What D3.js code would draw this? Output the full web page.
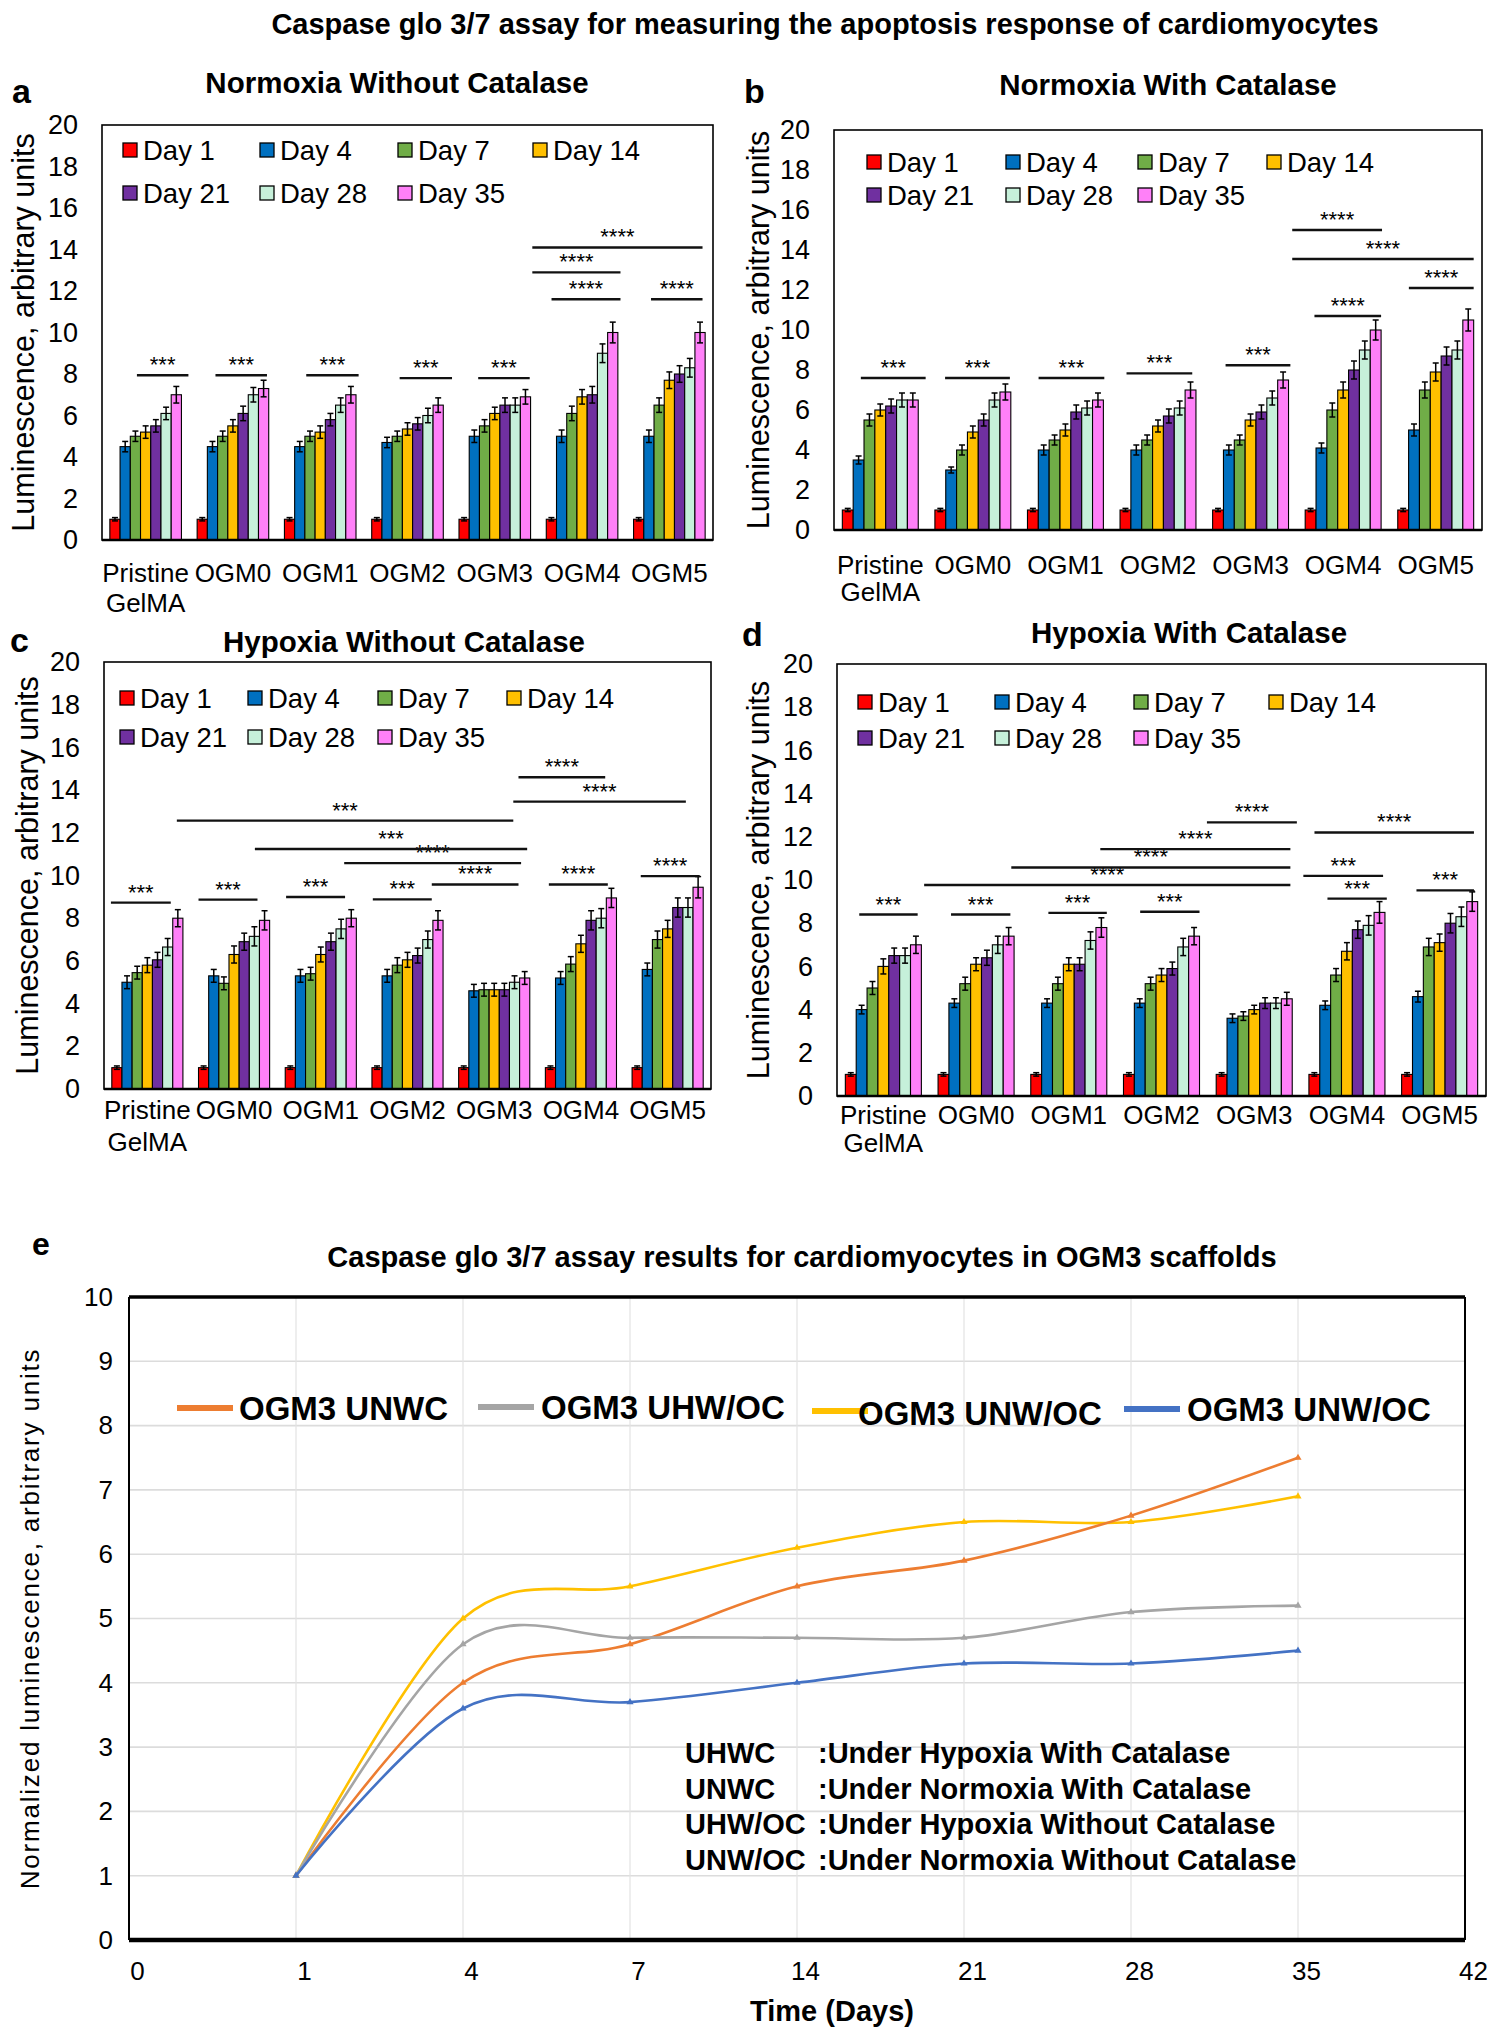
<!DOCTYPE html>
<html><head><meta charset="utf-8">
<script src="https://cdn.jsdelivr.net/npm/d3@7"></script>
<style>
body{margin:0;background:#fff}
svg{display:block}
text{font-family:"Liberation Sans",Arial,Helvetica,sans-serif;fill:#000}
</style>
</head><body>
<svg id="fig" width="1500" height="2038"></svg>
<script>
// ---------------- DATA ----------------
const groups = ["Pristine GelMA","OGM0","OGM1","OGM2","OGM3","OGM4","OGM5"];
const days = ["Day 1","Day 4","Day 7","Day 14","Day 21","Day 28","Day 35"];
const dayColors = ["#FF0000","#0070C0","#70AD47","#FFC000","#7030A0","#C6F0DA","#FF80F8"];
const barTicks = [0,2,4,6,8,10,12,14,16,18,20];

// values[group][day]
const valuesA = [
 [1.0,4.5,5.0,5.2,5.5,6.1,7.0],
 [1.0,4.5,5.0,5.5,6.1,7.0,7.3],
 [1.0,4.5,5.0,5.2,5.8,6.5,7.0],
 [1.0,4.7,5.0,5.35,5.6,6.0,6.5],
 [1.0,5.0,5.5,6.1,6.5,6.5,6.9],
 [1.0,5.0,6.1,6.9,7.0,9.0,10.0],
 [1.0,5.0,6.5,7.7,8.0,8.3,10.0]];
const errorsA = [
 [0.08,0.25,0.25,0.3,0.3,0.3,0.4],
 [0.08,0.25,0.25,0.3,0.35,0.35,0.4],
 [0.08,0.25,0.25,0.3,0.3,0.35,0.4],
 [0.08,0.25,0.25,0.3,0.3,0.35,0.35],
 [0.08,0.3,0.3,0.3,0.35,0.35,0.35],
 [0.08,0.3,0.35,0.35,0.4,0.45,0.5],
 [0.08,0.3,0.35,0.4,0.4,0.45,0.5]];
const valuesB = [
 [1.0,3.5,5.5,6.0,6.2,6.5,6.5],
 [1.0,3.0,4.0,4.9,5.5,6.5,6.9],
 [1.0,4.0,4.5,5.0,5.9,6.1,6.5],
 [1.0,4.0,4.5,5.2,5.7,6.1,7.0],
 [1.0,4.0,4.5,5.5,5.9,6.6,7.5],
 [1.0,4.1,6.0,7.0,8.0,9.0,10.0],
 [1.0,5.0,7.0,7.9,8.7,9.0,10.5]];
const errorsB = [
 [0.08,0.2,0.3,0.3,0.35,0.35,0.35],
 [0.08,0.15,0.25,0.3,0.3,0.35,0.4],
 [0.08,0.25,0.25,0.3,0.35,0.35,0.35],
 [0.08,0.25,0.25,0.3,0.35,0.35,0.4],
 [0.08,0.25,0.25,0.3,0.35,0.35,0.4],
 [0.08,0.25,0.35,0.4,0.45,0.45,0.5],
 [0.08,0.3,0.4,0.45,0.45,0.45,0.55]];
const valuesC = [
 [1.0,5.0,5.45,5.8,6.05,6.65,8.0],
 [1.0,5.3,4.95,6.3,6.9,7.15,7.9],
 [1.0,5.3,5.4,6.3,6.9,7.5,8.0],
 [1.0,5.3,5.8,6.05,6.25,7.0,7.9],
 [1.0,4.6,4.65,4.65,4.65,5.0,5.2],
 [1.0,5.2,5.85,6.8,7.9,8.0,8.95],
 [1.0,5.6,7.0,7.5,8.5,8.5,9.45]];
const errorsC = [
 [0.08,0.3,0.3,0.35,0.35,0.4,0.4],
 [0.08,0.3,0.3,0.4,0.4,0.45,0.45],
 [0.08,0.3,0.3,0.35,0.4,0.45,0.4],
 [0.08,0.3,0.35,0.35,0.35,0.4,0.45],
 [0.08,0.3,0.3,0.3,0.3,0.3,0.3],
 [0.08,0.3,0.35,0.4,0.45,0.45,0.45],
 [0.08,0.3,0.4,0.4,0.45,0.45,0.5]];
const valuesD = [
 [1.0,4.0,5.0,6.0,6.5,6.5,7.0],
 [1.0,4.3,5.2,6.1,6.4,7.0,7.4],
 [1.0,4.3,5.2,6.1,6.1,7.2,7.8],
 [1.0,4.3,5.2,5.6,5.9,6.9,7.4],
 [1.0,3.6,3.7,4.0,4.3,4.3,4.5],
 [1.0,4.2,5.6,6.7,7.7,7.9,8.5],
 [1.0,4.6,6.9,7.1,8.0,8.3,9.0]];
const errorsD = [
 [0.08,0.2,0.3,0.35,0.35,0.35,0.4],
 [0.08,0.2,0.3,0.3,0.35,0.4,0.4],
 [0.08,0.2,0.3,0.3,0.3,0.4,0.45],
 [0.08,0.2,0.3,0.3,0.3,0.4,0.4],
 [0.08,0.2,0.2,0.2,0.25,0.25,0.3],
 [0.08,0.2,0.3,0.4,0.4,0.45,0.5],
 [0.08,0.25,0.4,0.4,0.45,0.45,0.45]];

// significance brackets: [from (group units), to (group units), level, label, drop tick]
const bracketsA = [
 [0.40,0.99,7.94,"***"],[1.30,1.89,7.94,"***"],[2.34,2.94,7.94,"***"],
 [3.41,4.01,7.8,"***"],[4.31,4.90,7.8,"***"],
 [5.15,5.94,11.6,"****"],[4.93,5.94,12.9,"****"],[4.93,6.88,14.1,"****"],[6.29,6.88,11.6,"****"]];
const bracketsB = [
 [0.29,0.99,7.6,"***"],[1.20,1.90,7.6,"***"],[2.21,2.92,7.6,"***"],
 [3.16,3.87,7.83,"***"],[4.23,4.93,8.24,"***"],
 [5.19,5.91,10.7,"****"],[6.21,6.91,12.1,"****"],[4.95,6.91,13.55,"****"],[4.95,5.92,15.0,"****"]];
const bracketsC = [
 [0.08,0.77,8.73,"***"],[1.09,1.77,8.87,"***"],[2.10,2.78,8.99,"***"],[3.10,3.78,8.88,"***"],
 [3.78,4.78,9.58,"****"],[2.77,4.81,10.58,"****"],[1.74,4.88,11.24,"***"],[0.84,4.72,12.57,"***"],
 [5.13,5.81,9.58,"****"],[6.19,6.87,9.97,"****",true],[4.72,6.71,13.46,"****"],[4.78,5.78,14.6,"****"]];
const bracketsD = [
 [0.24,0.87,8.4,"***"],[1.23,1.87,8.4,"***"],[2.28,2.91,8.48,"***"],[3.27,3.91,8.53,"***"],
 [0.94,4.89,9.77,"****"],[1.88,4.89,10.58,"****"],[2.84,4.89,11.43,"****"],[3.99,4.96,12.67,"****"],
 [5.03,5.89,10.19,"***"],[5.29,5.93,9.14,"***"],[6.25,6.87,9.52,"***",true],[5.15,6.87,12.2,"****"]];

// panel e
const timeLabels = ["0","1","4","7","14","21","28","35","42"];
const seriesDays = ["1","4","7","14","21","28","35"];
const lineTicks = [0,1,2,3,4,5,6,7,8,9,10];
const seriesNames = ["OGM3 UNWC","OGM3 UHW/OC","OGM3 UNW/OC","OGM3 UNW/OC"];
const seriesColors = ["#ED7D31","#A5A5A5","#FFC000","#4472C4"];
const seriesUNWC   = [1,4.0,4.6,5.5,5.9,6.6,7.5];
const seriesUHWOC  = [1,4.6,4.7,4.7,4.7,5.1,5.2];
const seriesUNWOCy = [1,5.0,5.5,6.1,6.5,6.5,6.9];
const seriesUNWOCb = [1,3.6,3.7,4.0,4.3,4.3,4.5];
const abbreviations = [
 ["UHWC",":Under Hypoxia With Catalase"],
 ["UNWC",":Under Normoxia With Catalase"],
 ["UHW/OC",":Under Hypoxia Without Catalase"],
 ["UNW/OC",":Under Normoxia Without Catalase"]];

// ---------------- LAYOUT ----------------
const panels = [
 {letter:"a",title:"Normoxia Without Catalase",values:valuesA,errors:errorsA,brackets:bracketsA,
  left:102,right:713,top:125,bottom:540,letterX:12,letterY:103,titleX:397,titleY:93,yTitleX:23,
  legX:[21,158,296,431],legY:[150,193],lab1:42,lab2:30},
 {letter:"b",title:"Normoxia With Catalase",values:valuesB,errors:errorsB,brackets:bracketsB,
  left:834,right:1482,top:130,bottom:530,letterX:744,letterY:103,titleX:1168,titleY:95,yTitleX:758,
  legX:[33,172,304,433],legY:[162,195],lab1:44,lab2:27},
 {letter:"c",title:"Hypoxia Without Catalase",values:valuesC,errors:errorsC,brackets:bracketsC,
  left:104,right:711,top:662,bottom:1089,letterX:10,letterY:652,titleX:404,titleY:652,yTitleX:27,
  legX:[16,144,274,403],legY:[698,737],lab1:30,lab2:32},
 {letter:"d",title:"Hypoxia With Catalase",values:valuesD,errors:errorsD,brackets:bracketsD,
  left:837,right:1486,top:664,bottom:1096,letterX:742,letterY:646,titleX:1189,titleY:643,yTitleX:758,
  legX:[21,158,297,432],legY:[702,738],lab1:28,lab2:28}
];

const svg = d3.select("#fig");
svg.append("rect").attr("width",1500).attr("height",2038).attr("fill","#fff");

svg.append("text").attr("x",825).attr("y",34).attr("text-anchor","middle")
  .attr("font-size",29).attr("font-weight","bold")
  .text("Caspase glo 3/7 assay for measuring the apoptosis response of cardiomyocytes");

function drawPanel(p){
  const g = svg.append("g");
  const x0 = d3.scaleBand().domain(groups).range([p.left,p.right]).paddingInner(0.18).paddingOuter(0.09);
  const x1 = d3.scaleBand().domain(days).range([0,x0.bandwidth()]);
  const y = d3.scaleLinear().domain([0,20]).range([p.bottom,p.top]);
  const u = d3.scaleLinear().domain([0,groups.length]).range([p.left,p.right]);

  g.append("text").attr("x",p.letterX).attr("y",p.letterY).attr("font-size",34).attr("font-weight","bold").text(p.letter);
  g.append("text").attr("x",p.titleX).attr("y",p.titleY).attr("text-anchor","middle")
    .attr("font-size",29.5).attr("font-weight","bold").text(p.title);

  // frame
  g.append("rect").attr("x",p.left).attr("y",p.top).attr("width",p.right-p.left).attr("height",p.bottom-p.top)
    .attr("fill","none").attr("stroke","#000").attr("stroke-width",1.6);

  // y axis
  const ax = g.append("g").attr("transform",`translate(${p.left},0)`)
    .call(d3.axisLeft(y).tickValues(barTicks).tickSize(0).tickPadding(24));
  ax.select(".domain").remove();
  ax.selectAll("text").attr("font-size",27).attr("font-family","'Liberation Sans',Arial,sans-serif").attr("fill","#000");

  g.append("text").attr("transform",`translate(${p.yTitleX},${(p.top+p.bottom)/2}) rotate(-90)`)
    .attr("text-anchor","middle").attr("dominant-baseline","central").attr("font-size",30.5)
    .text("Luminescence, arbitrary units");

  // bars
  groups.forEach((gn,gi)=>{
    days.forEach((dn,di)=>{
      const v = p.values[gi][di], e = p.errors[gi][di];
      const bx = x0(gn)+x1(dn), bw = x1.bandwidth();
      g.append("rect").attr("x",bx).attr("y",y(v)).attr("width",bw).attr("height",y(0)-y(v))
        .attr("fill",dayColors[di]).attr("stroke","#000").attr("stroke-width",1.1);
      const cx = bx+bw/2;
      g.append("line").attr("x1",cx).attr("x2",cx).attr("y1",y(v-e)).attr("y2",y(v+e)).attr("stroke","#000").attr("stroke-width",1.5);
      [v-e,v+e].forEach(t=>g.append("line").attr("x1",cx-3).attr("x2",cx+3).attr("y1",y(t)).attr("y2",y(t)).attr("stroke","#000").attr("stroke-width",1.5));
    });
  });

  // bottom axis line (thicker)
  g.append("line").attr("x1",p.left).attr("x2",p.right).attr("y1",p.bottom).attr("y2",p.bottom).attr("stroke","#000").attr("stroke-width",2.6);

  // category labels
  groups.forEach(gn=>{
    const cx = x0(gn)+x0.bandwidth()/2;
    const parts = gn.split(" ");
    const t = g.append("text").attr("x",cx).attr("y",p.bottom+p.lab1).attr("text-anchor","middle").attr("font-size",26);
    parts.forEach((s,i)=>t.append("tspan").attr("x",cx).attr("dy",i?p.lab2:0).text(s));
  });

  // legend
  days.forEach((dn,di)=>{
    const lx = p.left + p.legX[di%4], ly = p.legY[Math.floor(di/4)];
    g.append("rect").attr("x",lx).attr("y",ly-7).attr("width",14).attr("height",14)
      .attr("fill",dayColors[di]).attr("stroke","#000").attr("stroke-width",1.3);
    g.append("text").attr("x",lx+20).attr("y",ly).attr("dominant-baseline","central").attr("font-size",27.5).text(dn);
  });

  // significance brackets
  p.brackets.forEach(b=>{
    const xa = u(b[0]), xb = u(b[1]), yy = y(b[2]);
    g.append("line").attr("x1",xa).attr("x2",xb).attr("y1",yy).attr("y2",yy).attr("stroke","#111").attr("stroke-width",2.4);
    if(b[4]){
      const v = p.values[groups.length-1][days.length-1]+p.errors[groups.length-1][days.length-1];
      g.append("line").attr("x1",xb).attr("x2",xb).attr("y1",yy).attr("y2",y(v)).attr("stroke","#111").attr("stroke-width",2);
    }
    g.append("text").attr("x",(xa+xb)/2).attr("y",yy-3).attr("text-anchor","middle").attr("font-size",22).attr("fill","#222").text(b[3]);
  });
}
panels.forEach(drawPanel);

// ---------------- PANEL E ----------------
const E = {left:129,right:1465,top:1297,bottom:1940};
const xE = d3.scalePoint().domain(timeLabels).range([E.left,E.right]);
const yE = d3.scaleLinear().domain([0,10]).range([E.bottom,E.top]);
const ge = svg.append("g");

ge.append("text").attr("x",32).attr("y",1255).attr("font-size",32).attr("font-weight","bold").text("e");
ge.append("text").attr("x",802).attr("y",1267).attr("text-anchor","middle").attr("font-size",29).attr("font-weight","bold")
  .text("Caspase glo 3/7 assay results for cardiomyocytes in OGM3 scaffolds");

// gridlines
ge.append("g").selectAll("line").data(lineTicks.slice(1)).join("line")
  .attr("x1",E.left).attr("x2",E.right).attr("y1",d=>yE(d)).attr("y2",d=>yE(d)).attr("stroke","#DCDCDC").attr("stroke-width",1.6);
ge.append("g").selectAll("line").data(timeLabels.slice(1,-1)).join("line")
  .attr("x1",d=>xE(d)).attr("x2",d=>xE(d)).attr("y1",E.top).attr("y2",E.bottom).attr("stroke","#E3E3E3").attr("stroke-width",1.2);

// frame
ge.append("line").attr("x1",E.left).attr("x2",E.left).attr("y1",E.top).attr("y2",E.bottom).attr("stroke","#000").attr("stroke-width",2);
ge.append("line").attr("x1",E.right).attr("x2",E.right).attr("y1",E.top).attr("y2",E.bottom).attr("stroke","#000").attr("stroke-width",2);
ge.append("line").attr("x1",E.left).attr("x2",E.right).attr("y1",E.top).attr("y2",E.top).attr("stroke","#000").attr("stroke-width",3.5);
ge.append("line").attr("x1",E.left).attr("x2",E.right).attr("y1",E.bottom).attr("y2",E.bottom).attr("stroke","#000").attr("stroke-width",4.5);

// axes labels
const yAx = ge.append("g").attr("transform",`translate(${E.left},0)`).call(d3.axisLeft(yE).tickValues(lineTicks).tickSize(0).tickPadding(16));
yAx.select(".domain").remove();
yAx.selectAll("text").attr("font-size",26).attr("font-family","'Liberation Sans',Arial,sans-serif").attr("fill","#000");
const xAx = ge.append("g").attr("transform",`translate(0,${E.bottom})`).call(d3.axisBottom(xE).tickSize(0).tickPadding(22));
xAx.select(".domain").remove();
xAx.selectAll("text").attr("font-size",26).attr("dx",8).attr("font-family","'Liberation Sans',Arial,sans-serif").attr("fill","#000");

ge.append("text").attr("x",832).attr("y",2021).attr("text-anchor","middle").attr("font-size",29).attr("font-weight","bold").text("Time (Days)");
ge.append("text").attr("transform",`translate(30,${(E.top+E.bottom)/2}) rotate(-90)`).attr("text-anchor","middle")
  .attr("dominant-baseline","central").attr("font-size",26).attr("letter-spacing",1.8)
  .text("Normalized luminescence, arbitrary units");

// lines
const allSeries = [seriesUNWC,seriesUHWOC,seriesUNWOCy,seriesUNWOCb];
const lineGen = d3.line().x((d,i)=>xE(seriesDays[i])).y(d=>yE(d)).curve(d3.curveCatmullRom.alpha(0));
[2,0,1,3].forEach(si=>{
  ge.append("path").attr("d",lineGen(allSeries[si])).attr("fill","none").attr("stroke",seriesColors[si]).attr("stroke-width",2.6);
  ge.append("g").selectAll("path").data(allSeries[si]).join("path")
    .attr("transform",(d,i)=>`translate(${xE(seriesDays[i])},${yE(d)})`)
    .attr("d",d3.symbol(d3.symbolTriangle,22)).attr("fill",seriesColors[si]);
});

// legend
const legE = [{sx:177,y:1408,tx:239,ty:1420},{sx:478,y:1407,tx:541,ty:1419},{sx:812,y:1411,tx:858,ty:1425},{sx:1124,y:1409,tx:1187,ty:1421}];
seriesNames.forEach((n,i)=>{
  const L = legE[i];
  ge.append("line").attr("x1",L.sx).attr("x2",L.sx+56).attr("y1",L.y).attr("y2",L.y).attr("stroke",seriesColors[i]).attr("stroke-width",6);
  ge.append("text").attr("x",L.tx).attr("y",L.ty).attr("font-size",33).attr("font-weight","bold").text(n);
});

// abbreviation block
abbreviations.forEach((a,i)=>{
  const yy = 1763 + i*35.5;
  ge.append("text").attr("x",685).attr("y",yy).attr("font-size",29).attr("font-weight","bold").text(a[0]);
  ge.append("text").attr("x",818).attr("y",yy).attr("font-size",29).attr("font-weight","bold").text(a[1]);
});
</script>
</body></html>
